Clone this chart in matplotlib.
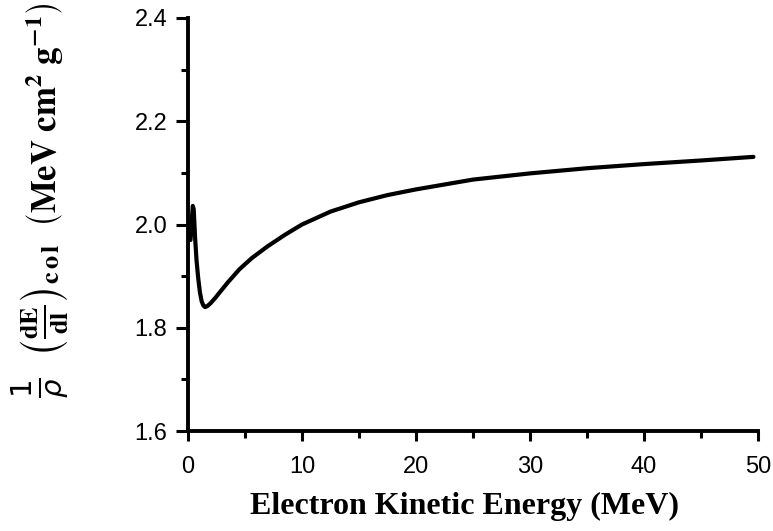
import matplotlib
matplotlib.use('Agg')
import matplotlib.pyplot as plt
from matplotlib.ticker import MultipleLocator

# collision stopping power
energy = [0.22, 0.32, 0.42, 0.5, 0.62, 0.75, 0.9, 1.05, 1.2, 1.35, 1.5, 1.7,
          2.0, 2.4, 2.8, 3.5, 4.5, 5.6, 7.0, 8.5, 10.0, 12.5, 15.0, 17.5, 20.0,
          25.0, 30.0, 35.0, 40.0, 45.0, 49.6]
sp_col = [1.97, 2.005, 2.036, 2.03, 1.975, 1.93, 1.895, 1.868, 1.851, 1.843, 1.840, 1.842,
          1.848, 1.858, 1.869, 1.888, 1.913, 1.935, 1.958, 1.980, 2.000, 2.025, 2.043, 2.057, 2.068,
          2.087, 2.099, 2.109, 2.117, 2.124, 2.131]

xticks = [0, 10, 20, 30, 40, 50]
yticks = [1.6, 1.8, 2.0, 2.2, 2.4]

fig = plt.figure(figsize=(7.73, 5.31), dpi=100)
ax = fig.add_axes([188 / 773, 1 - 431 / 531, (758 - 188) / 773, (431 - 18) / 531])

ax.plot(energy, sp_col, color='black', lw=3.0, solid_capstyle='round')

ax.set_xlim(0, 50)
ax.set_ylim(1.6, 2.4)
ax.set_xticks(xticks)
ax.set_yticks(yticks)
ax.set_yticklabels(['%.1f' % v for v in yticks])
ax.xaxis.set_minor_locator(MultipleLocator(5))
ax.yaxis.set_minor_locator(MultipleLocator(0.1))

for s in ['top', 'right']:
    ax.spines[s].set_visible(False)
for s in ['left', 'bottom']:
    ax.spines[s].set_linewidth(2.8)

ax.tick_params(axis='y', which='major', direction='out', length=9, width=2.2, pad=6)
ax.tick_params(axis='y', which='minor', direction='out', length=5, width=2.2)
ax.tick_params(axis='x', which='major', direction='out', length=7, width=2.2, pad=11)
ax.tick_params(axis='x', which='minor', direction='out', length=5, width=2.2)
for lab in ax.get_xticklabels() + ax.get_yticklabels():
    lab.set_family('Liberation Sans')
    lab.set_fontsize(17)

ax.set_xlabel('Electron Kinetic Energy (MeV)', family='Liberation Serif',
              fontweight='bold', fontsize=23)
ax.xaxis.set_label_coords(0.485, -0.148)

# y label made of three pieces, rotated
fig.text(0.052, 1 - 388 / 531, r'$\frac{1}{\rho}$', rotation=90, fontsize=30,
         math_fontfamily='dejavusans', ha='center', va='center')
fig.text(0.058, 1 - 300 / 531, r'$\left(\frac{\mathbf{dE}}{\mathbf{dl}}\right)_{\mathbf{c\,o\,l}}$',
         rotation=90, fontsize=27, math_fontfamily='stix', ha='center', va='center')
fig.text(0.058, 1 - 115 / 531, r'$\left(\mathbf{MeV\ cm^{2}\ g^{-1}}\right)$',
         rotation=90, fontsize=25, math_fontfamily='stix', ha='center', va='center')

plt.savefig('out.png', dpi=100)
